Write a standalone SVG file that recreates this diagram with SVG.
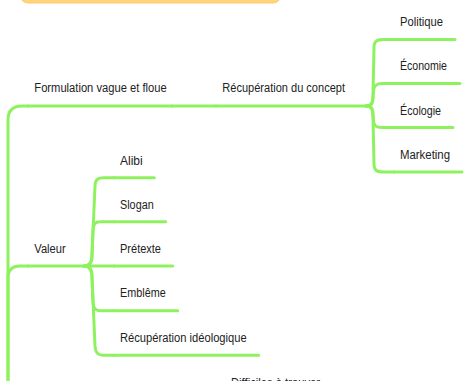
<svg xmlns="http://www.w3.org/2000/svg" width="466" height="381" viewBox="0 0 466 381">
<style>
.ln{fill:none;stroke:#8EF25E;stroke-width:3;stroke-linecap:round;stroke-linejoin:round}
.t{font-family:"Liberation Sans",Arial,sans-serif;font-size:12.5px;fill:#222}
</style>
<rect width="466" height="381" fill="#fff"/>
<g id="root">
<rect x="20" y="-40" width="261" height="43" rx="8" fill="#FFD47E" stroke="#FFCB6A" stroke-width="1"/>
</g>
<g id="connectors" class="ln">
<path d="M8 392 L8 120 Q8 106 22 106 H28"/>
<path d="M8 392 L8 278 Q8 266 20 266 H28"/>
<path d="M172 106 H216"/>
<path d="M366 106 C372 106 373 102 373 94 L374 48 C374 42 376 39.5 383 39.5 H394"/>
<path d="M366 106 C372 106 373 103 373 98 L373.5 91 C374 86 376 83.5 382 83.5 H394"/>
<path d="M366 106 C372 106 373 109 373 114 L373.5 121 C374 126 376 127.5 382 127.5 H394"/>
<path d="M366 106 C372 106 373 110 373 118 L374 164 C374 170 376 172 384 172 H394"/>
<path d="M84 266 C90 266 92 262 92 254 L95 186 C95.5 180 97 177.7 104 177.7 H114"/>
<path d="M84 266 C90 266 92 262 92 256 L93 230 C93.5 224 95 221.7 101 221.7 H114"/>
<path d="M84 266 H114"/>
<path d="M84 266 C90 266 92 270 92 276 L93 302 C93.5 308 95 310.7 101 310.7 H114"/>
<path d="M84 266 C90 266 92 270 92 278 L95 346 C95.5 352 97 355.3 104 355.3 H114"/>
</g>
<g id="n-formulation"><path class="ln" d="M28 106 H172"/><text class="t" x="34.3" y="92.3" textLength="132.4" lengthAdjust="spacingAndGlyphs">Formulation vague et floue</text></g>
<g id="n-recuperation"><path class="ln" d="M216 106 H366"/><text class="t" x="222.3" y="92.3" textLength="122.7" lengthAdjust="spacingAndGlyphs">Récupération du concept</text></g>
<g id="n-politique"><path class="ln" d="M394 39.5 H455"/><text class="t" x="400" y="25.8" textLength="43" lengthAdjust="spacingAndGlyphs">Politique</text></g>
<g id="n-economie"><path class="ln" d="M394 83.5 H460"/><text class="t" x="400" y="70" textLength="47" lengthAdjust="spacingAndGlyphs">Économie</text></g>
<g id="n-ecologie"><path class="ln" d="M394 127.5 H453"/><text class="t" x="400" y="114.5" textLength="41" lengthAdjust="spacingAndGlyphs">Écologie</text></g>
<g id="n-marketing"><path class="ln" d="M394 172 H462"/><text class="t" x="400" y="159.3" textLength="50" lengthAdjust="spacingAndGlyphs">Marketing</text></g>
<g id="n-valeur"><path class="ln" d="M28 266 H84"/><text class="t" x="34.3" y="252.7" textLength="31.4" lengthAdjust="spacingAndGlyphs">Valeur</text></g>
<g id="n-alibi"><path class="ln" d="M114 177.7 H154.3"/><text class="t" x="120" y="164.7" textLength="22.7" lengthAdjust="spacingAndGlyphs">Alibi</text></g>
<g id="n-slogan"><path class="ln" d="M114 221.7 H165.7"/><text class="t" x="120" y="208.5" textLength="33.7" lengthAdjust="spacingAndGlyphs">Slogan</text></g>
<g id="n-pretexte"><path class="ln" d="M114 266 H172.7"/><text class="t" x="120" y="252.7" textLength="41" lengthAdjust="spacingAndGlyphs">Prétexte</text></g>
<g id="n-embleme"><path class="ln" d="M114 310.7 H177.7"/><text class="t" x="120" y="297.3" textLength="45.7" lengthAdjust="spacingAndGlyphs">Emblême</text></g>
<g id="n-recup-ideo"><path class="ln" d="M114 355.3 H258.7"/><text class="t" x="120" y="341.7" textLength="126.7" lengthAdjust="spacingAndGlyphs">Récupération idéologique</text></g>
<g id="n-difficiles"><text class="t" x="231" y="387" textLength="89" lengthAdjust="spacingAndGlyphs">Difficiles à trouver</text></g>
</svg>
